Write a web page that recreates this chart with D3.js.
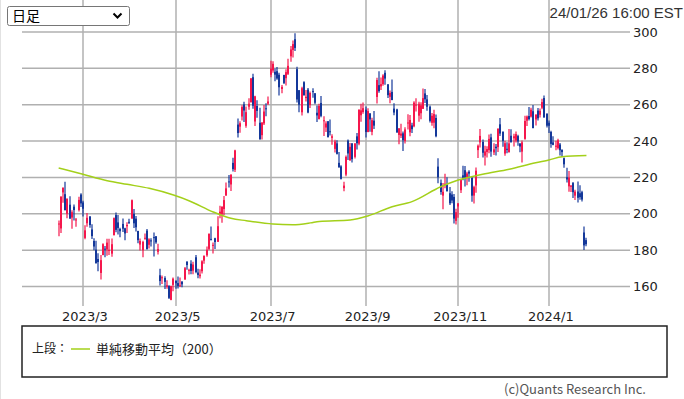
<!DOCTYPE html>
<html>
<head>
<meta charset="utf-8">
<script src="https://cdn.jsdelivr.net/npm/d3@7"></script>
<style>
  body { margin: 0; background: #fff; }
  svg { display: block; }
</style>
</head>
<body>
<svg width="684" height="399"></svg>
<script>
// daily bars, 2023/02/13 - 2024/01/26
var dates = [
  "2023/02/13","2023/02/14","2023/02/15","2023/02/16","2023/02/17","2023/02/21","2023/02/22","2023/02/23","2023/02/24","2023/02/27","2023/02/28",
  "2023/03/01","2023/03/02","2023/03/03","2023/03/06","2023/03/07","2023/03/08","2023/03/09","2023/03/10","2023/03/13","2023/03/14","2023/03/15","2023/03/16","2023/03/17","2023/03/20","2023/03/21","2023/03/22","2023/03/23","2023/03/24","2023/03/27","2023/03/28","2023/03/29","2023/03/30","2023/03/31",
  "2023/04/03","2023/04/04","2023/04/05","2023/04/06","2023/04/10","2023/04/11","2023/04/12","2023/04/13","2023/04/14","2023/04/17","2023/04/18","2023/04/19","2023/04/20","2023/04/21","2023/04/24","2023/04/25","2023/04/26","2023/04/27","2023/04/28",
  "2023/05/01","2023/05/02","2023/05/03","2023/05/04","2023/05/05","2023/05/08","2023/05/09","2023/05/10","2023/05/11","2023/05/12","2023/05/15","2023/05/16","2023/05/17","2023/05/18","2023/05/19","2023/05/22","2023/05/23","2023/05/24","2023/05/25","2023/05/26","2023/05/30","2023/05/31",
  "2023/06/01","2023/06/02","2023/06/05","2023/06/06","2023/06/07","2023/06/08","2023/06/09","2023/06/12","2023/06/13","2023/06/14","2023/06/15","2023/06/16","2023/06/20","2023/06/21","2023/06/22","2023/06/23","2023/06/26","2023/06/27","2023/06/28","2023/06/29","2023/06/30",
  "2023/07/03","2023/07/05","2023/07/06","2023/07/07","2023/07/10","2023/07/11","2023/07/12","2023/07/13","2023/07/14","2023/07/17","2023/07/18","2023/07/19","2023/07/20","2023/07/21","2023/07/24","2023/07/25","2023/07/26","2023/07/27","2023/07/28","2023/07/31",
  "2023/08/01","2023/08/02","2023/08/03","2023/08/04","2023/08/07","2023/08/08","2023/08/09","2023/08/10","2023/08/11","2023/08/14","2023/08/15","2023/08/16","2023/08/17","2023/08/18","2023/08/21","2023/08/22","2023/08/23","2023/08/24","2023/08/25","2023/08/28","2023/08/29","2023/08/30","2023/08/31",
  "2023/09/01","2023/09/05","2023/09/06","2023/09/07","2023/09/08","2023/09/11","2023/09/12","2023/09/13","2023/09/14","2023/09/15","2023/09/18","2023/09/19","2023/09/20","2023/09/21","2023/09/22","2023/09/25","2023/09/26","2023/09/27","2023/09/28","2023/09/29",
  "2023/10/02","2023/10/03","2023/10/04","2023/10/05","2023/10/06","2023/10/09","2023/10/10","2023/10/11","2023/10/12","2023/10/13","2023/10/16","2023/10/17","2023/10/18","2023/10/19","2023/10/20","2023/10/23","2023/10/24","2023/10/25","2023/10/26","2023/10/27","2023/10/30","2023/10/31",
  "2023/11/01","2023/11/02","2023/11/03","2023/11/06","2023/11/07","2023/11/08","2023/11/09","2023/11/10","2023/11/13","2023/11/14","2023/11/15","2023/11/16","2023/11/17","2023/11/20","2023/11/21","2023/11/22","2023/11/24","2023/11/27","2023/11/28","2023/11/29","2023/11/30",
  "2023/12/01","2023/12/04","2023/12/05","2023/12/06","2023/12/07","2023/12/08","2023/12/11","2023/12/12","2023/12/13","2023/12/14","2023/12/15","2023/12/18","2023/12/19","2023/12/20","2023/12/21","2023/12/22","2023/12/26","2023/12/27","2023/12/28","2023/12/29",
  "2024/01/02","2024/01/03","2024/01/04","2024/01/05","2024/01/08","2024/01/09","2024/01/10","2024/01/11","2024/01/12","2024/01/16","2024/01/17","2024/01/18","2024/01/19","2024/01/22","2024/01/23","2024/01/24","2024/01/25","2024/01/26"
];

var open = [
  194.42,191.94,211.76,210.78,199.99,204.99,197.93,203.91,196.33,202.03,210.59,
  206.21,186.74,194.80,198.54,191.38,185.04,180.25,175.13,167.46,177.31,180.80,180.37,180.00,178.08,188.28,199.30,195.26,191.65,194.42,192.00,193.13,195.58,197.53,
  199.91,197.32,190.52,183.08,179.94,186.69,190.74,182.95,185.36,187.15,187.64,179.10,166.17,164.80,164.65,159.82,160.29,152.64,160.90,
  163.17,161.88,160.01,162.71,163.97,173.72,168.95,172.55,168.70,176.07,167.66,165.65,168.41,174.22,177.17,180.70,186.20,182.56,186.54,184.62,200.10,199.78,
  202.59,210.15,217.80,216.14,228.00,224.22,249.07,247.94,253.51,260.17,248.40,258.92,261.50,275.13,250.77,259.29,250.07,243.24,249.70,258.03,260.60,
  276.49,278.82,278.09,278.43,276.47,268.65,276.33,274.59,277.01,286.63,290.15,296.04,279.56,268.00,255.85,272.38,263.66,268.31,259.86,267.48,
  266.26,255.57,252.04,260.97,251.45,247.45,250.87,245.40,241.77,235.70,238.73,228.02,226.06,214.12,221.55,240.25,229.34,238.66,231.31,242.58,238.58,254.20,255.98,
  257.26,245.00,255.14,245.07,251.22,264.27,270.76,270.07,271.32,277.55,271.16,264.35,267.04,257.85,257.40,243.38,242.98,244.26,240.02,250.00,
  244.81,248.61,248.14,260.00,253.98,255.31,257.75,266.20,262.92,258.90,250.05,250.10,252.70,225.95,217.01,210.00,216.50,215.88,211.32,210.60,209.28,196.12,
  204.04,212.97,221.15,223.98,219.98,223.15,219.75,210.03,215.60,235.03,239.29,239.49,232.00,234.04,235.04,242.04,233.75,236.89,236.68,249.21,245.14,
  233.14,235.75,233.87,242.92,241.55,240.27,242.74,238.55,234.19,241.22,251.21,253.78,253.48,256.41,251.90,256.76,254.49,258.35,263.66,255.10,
  250.08,244.98,239.25,236.86,236.14,238.11,235.10,230.57,220.08,215.10,214.86,216.88,209.99,212.26,211.30,211.88,189.70,185.50
];

var high = [
  196.30,209.82,214.66,217.65,208.44,209.71,201.99,205.14,197.67,209.42,211.23,
  207.20,193.75,200.48,198.60,194.20,186.50,185.18,178.29,177.35,183.80,182.34,186.22,186.22,186.44,198.00,200.66,199.31,192.36,197.39,192.35,195.29,197.33,207.79,
  202.69,198.74,190.68,186.39,185.10,189.19,191.58,186.50,186.57,189.69,187.69,183.50,169.70,166.00,165.65,163.47,160.67,160.48,165.00,
  163.28,165.49,165.00,162.95,170.79,173.80,169.82,174.43,173.57,177.38,169.76,169.52,174.50,177.06,181.95,189.32,192.96,184.22,186.78,198.60,204.48,203.95,
  209.80,217.25,221.29,221.91,230.83,235.23,252.42,250.97,259.68,261.57,258.95,263.60,274.75,276.99,265.00,262.45,258.37,250.39,259.88,260.74,264.45,
  284.25,283.85,279.97,280.78,277.52,270.90,276.52,279.45,285.30,292.23,295.26,299.29,280.93,268.00,269.85,272.90,268.04,269.13,267.25,269.08,
  266.47,259.52,260.49,264.77,253.65,250.92,251.10,251.80,243.79,240.66,240.50,233.97,226.74,217.58,232.13,240.82,238.98,238.92,239.00,244.38,257.48,260.51,261.18,
  259.08,258.00,255.39,252.81,256.52,274.85,278.39,274.98,276.71,278.98,271.44,267.85,273.93,260.86,257.79,247.10,249.55,245.33,247.55,254.77,
  254.28,250.02,261.86,263.60,261.65,261.36,268.94,268.60,265.41,259.60,255.40,257.18,254.63,230.61,218.86,216.98,222.05,220.10,214.80,212.41,210.88,202.80,
  205.99,219.20,226.37,226.32,223.12,224.00,220.80,215.38,225.40,238.14,246.70,240.88,237.39,237.10,243.62,244.01,238.75,238.33,247.00,252.75,245.22,
  240.19,239.37,246.66,246.57,244.08,245.27,243.44,238.99,240.30,253.88,254.13,258.74,258.34,259.84,254.80,258.22,257.97,263.34,265.13,255.19,
  251.25,245.68,242.70,240.12,241.25,238.96,235.50,230.93,225.34,223.49,215.67,217.45,213.19,217.80,215.65,212.73,193.00,186.78
];

var low = [
  187.61,189.44,206.11,201.84,197.50,197.22,191.78,196.33,192.80,201.26,203.75,
  198.52,186.01,192.88,192.30,186.10,180.00,172.51,168.44,163.91,177.14,176.03,176.93,177.33,176.35,188.04,189.80,188.65,187.15,189.94,185.43,189.44,194.42,197.20,
  192.20,190.32,183.76,179.74,176.11,185.65,180.31,180.94,182.01,176.55,183.58,177.65,160.56,161.32,158.61,158.75,153.14,152.37,157.32,
  158.83,158.93,159.91,159.65,163.51,169.19,166.56,166.68,166.79,167.23,164.55,164.35,167.19,172.45,176.31,180.11,185.26,178.22,180.58,184.53,197.53,195.12,
  199.37,209.75,214.52,212.53,223.20,223.01,242.02,244.59,251.34,250.50,247.29,257.21,261.07,257.78,248.25,252.80,240.70,240.85,248.89,253.61,259.89,
  275.11,277.60,272.88,273.77,265.10,266.37,271.46,270.60,276.31,283.57,286.01,289.52,261.20,255.80,254.12,265.00,261.75,255.30,258.23,263.78,
  260.25,250.49,252.00,253.11,242.76,245.01,241.90,243.00,238.02,233.75,232.61,225.38,218.83,212.36,220.58,229.55,229.29,228.18,230.35,235.35,237.77,250.59,255.05,
  242.01,244.86,245.06,243.27,246.67,260.61,266.60,268.10,270.42,271.00,263.76,260.87,262.46,254.21,244.48,238.31,241.66,234.58,238.65,246.35,
  242.62,244.45,247.60,256.25,250.65,252.05,257.65,260.90,256.63,250.22,248.48,247.08,242.08,216.78,210.42,202.51,214.11,212.20,204.88,205.77,194.67,194.07,
  197.85,211.45,218.40,215.00,215.72,217.64,206.68,205.69,211.61,230.72,236.45,230.96,226.54,231.02,233.34,231.40,232.33,232.10,234.01,242.76,236.91,
  231.90,233.29,233.70,239.17,236.98,239.27,237.45,233.87,228.20,240.79,248.30,251.36,253.01,247.00,248.55,251.37,252.91,257.52,252.71,247.43,
  244.41,236.32,237.73,234.90,235.30,232.04,231.29,225.37,217.15,212.18,212.01,208.74,207.56,206.27,207.75,206.77,180.06,182.10
];

var close = [
  194.64,209.25,214.24,202.04,208.31,197.37,200.86,202.07,196.88,207.63,205.71,
  202.77,190.90,197.79,193.81,187.71,182.00,172.92,173.44,174.48,183.26,180.45,184.13,180.13,183.25,197.58,191.15,192.22,190.41,191.81,189.19,193.88,195.28,207.46,
  194.77,192.58,185.52,185.06,184.51,186.79,180.54,185.90,185.00,187.04,184.31,180.59,162.99,165.08,162.55,160.67,153.75,160.19,164.31,
  161.83,160.31,160.61,161.20,170.06,171.79,169.15,168.54,172.08,167.98,166.35,166.52,173.86,176.89,180.14,188.87,185.77,182.90,184.47,193.17,201.16,203.93,
  207.52,213.97,217.61,221.31,224.57,234.86,244.40,249.83,258.71,256.79,255.90,260.54,274.45,259.46,264.61,256.60,241.05,250.21,256.24,257.50,261.77,
  279.82,282.48,276.54,274.43,269.61,269.79,271.99,277.90,281.38,290.38,293.34,291.26,262.90,260.02,269.06,265.28,264.35,255.71,266.44,267.43,
  261.07,254.11,259.32,253.86,251.45,249.70,242.19,245.34,242.65,239.76,232.96,225.60,219.22,215.49,231.28,233.19,236.86,230.04,238.59,238.82,257.18,256.90,258.08,
  245.01,256.49,251.92,251.49,248.50,273.58,267.48,271.30,276.04,274.39,265.28,266.50,262.59,255.70,244.88,246.99,244.12,240.50,246.38,250.22,
  251.60,246.53,261.16,260.05,260.53,259.67,263.62,262.99,258.87,251.12,253.92,254.85,242.68,220.11,211.99,212.08,216.52,212.42,205.76,207.30,197.36,200.84,
  205.66,218.51,219.96,219.27,222.18,222.11,209.98,214.65,223.71,237.41,242.84,233.59,234.30,235.60,241.20,234.21,235.45,236.08,246.72,244.14,240.08,
  238.83,235.58,238.72,239.37,242.64,243.84,239.74,237.01,239.29,251.05,253.50,252.08,257.22,247.14,254.50,252.54,256.61,261.44,253.18,248.48,
  248.42,238.45,237.93,237.49,240.45,234.96,233.94,227.22,218.89,219.91,215.55,211.88,212.19,208.80,209.14,207.83,182.63,183.25
];

// 200-day simple moving average (bar index -> value)
var smaIndex = [0, 11, 22, 31, 41, 52, 59, 70, 78, 85, 97, 106, 114, 118, 132, 140, 151, 160, 173, 180, 192, 204, 216, 222, 228, 239];
var smaValue = [225.2, 221.7, 218.2, 216.2, 214.0, 210.3, 207.2, 201.0, 197.5, 196.2, 194.4, 194.0, 195.0, 195.8, 196.6, 198.8, 203.9, 206.7, 214.9, 218.2, 221.7, 224.5, 228.1, 229.6, 231.4, 232.0];

var priceTicks = [160, 180, 200, 220, 240, 260, 280, 300];
var stampText = "24/01/26 16:00 EST";
var periodText = "日足";
var legendLabel = "上段：";
var smaLabel = "単純移動平均（200）";
var creditText = "(c)Quants Research Inc.";

var upColor = "#f5174c",
    downColor = "#14389a",
    smaColor = "#a3d01a",
    gridColor = "#b0b0b0",
    textColor = "#222";

var svg = d3.select("svg"),
    left = 22, right = 622, top = 27, bottom = 306;

svg.append("rect").attr("width", 684).attr("height", 399).attr("fill", "#fff");
svg.append("line")
    .attr("x1", 0.5).attr("x2", 0.5).attr("y1", 0).attr("y2", 399)
    .attr("stroke", "#e2e2e2");

var bars = dates.map(function(d, i) {
    return {date: d, i: i, o: open[i], h: high[i], l: low[i], c: close[i]};
});

var x = d3.scaleLinear().domain([-16.6, 255.1]).range([left, right]);
var y = d3.scaleLinear().domain([160, 300]).range([286.5, 32]);

// month starts for the vertical grid (odd months labelled)
var monthStarts = bars.filter(function(d, i) {
    return i > 0 && d.date.slice(5, 7) != bars[i - 1].date.slice(5, 7) && (+d.date.slice(5, 7)) % 2 == 1;
});

var grid = svg.append("g").attr("class", "grid")
    .attr("stroke", gridColor).attr("stroke-width", 1.5);

grid.selectAll(".hgrid")
    .data(priceTicks)
    .enter().append("line")
    .attr("x1", left).attr("x2", right + 8)
    .attr("y1", function(d) { return y(d); })
    .attr("y2", function(d) { return y(d); });

grid.selectAll(".vgrid")
    .data(monthStarts)
    .enter().append("line")
    .attr("x1", function(d) { return Math.round(x(d.i)); })
    .attr("x2", function(d) { return Math.round(x(d.i)); })
    .attr("y1", top).attr("y2", bottom);

svg.append("rect")
    .attr("x", left).attr("y", top)
    .attr("width", right - left).attr("height", bottom - top)
    .attr("fill", "none").attr("stroke", gridColor).attr("stroke-width", 1.5);

// y labels
svg.append("g")
    .selectAll("text")
    .data(priceTicks)
    .enter().append("text")
    .attr("x", right + 11)
    .attr("y", function(d) { return y(d); })
    .attr("dy", "0.36em")
    .attr("font-family", "'DejaVu Sans', sans-serif")
    .attr("font-size", 13)
    .attr("fill", textColor)
    .text(function(d) { return d; });

// x labels
svg.append("g")
    .selectAll("text")
    .data(monthStarts)
    .enter().append("text")
    .attr("x", function(d) { return x(d.i) + 2; })
    .attr("y", 316)
    .attr("dy", "0.36em")
    .attr("text-anchor", "middle")
    .attr("font-family", "'DejaVu Sans', sans-serif")
    .attr("font-size", 13)
    .attr("fill", textColor)
    .text(function(d) { return d.date.slice(0, 4) + "/" + (+d.date.slice(5, 7)); });

// candles
var candle = svg.append("g").attr("class", "candles")
    .selectAll("g")
    .data(bars)
    .enter().append("g")
    .attr("fill", function(d) { return d.c >= d.o ? upColor : downColor; })
    .attr("stroke", function(d) { return d.c >= d.o ? upColor : downColor; });

candle.append("line")
    .attr("x1", function(d) { return Math.round(x(d.i)); })
    .attr("x2", function(d) { return Math.round(x(d.i)); })
    .attr("y1", function(d) { return y(d.h); })
    .attr("y2", function(d) { return y(d.l); })
    .attr("stroke-width", 1.2);

candle.append("rect")
    .attr("stroke", "none")
    .attr("x", function(d) { return Math.round(x(d.i)) - 1; })
    .attr("width", 2)
    .attr("y", function(d) { return y(Math.max(d.o, d.c)); })
    .attr("height", function(d) { return Math.max(1, Math.abs(y(d.o) - y(d.c))); });

// moving average
var sma = smaIndex.map(function(d, k) { return [d, smaValue[k]]; });
svg.append("path")
    .datum(sma)
    .attr("fill", "none")
    .attr("stroke", smaColor)
    .attr("stroke-width", 1.5)
    .attr("d", d3.line()
        .x(function(d) { return x(d[0]); })
        .y(function(d) { return y(d[1]); })
        .curve(d3.curveMonotoneX));

// period selector
var sel = svg.append("g");
sel.append("rect")
    .attr("x", 7.5).attr("y", 6.5).attr("width", 122).attr("height", 19).attr("rx", 2)
    .attr("fill", "#fff").attr("stroke", "#767676");
sel.append("text")
    .attr("x", 12).attr("y", 16).attr("dy", "0.36em")
    .attr("font-family", "'Noto Sans CJK JP', sans-serif").attr("font-size", 14)
    .attr("fill", "#000").text(periodText);
sel.append("path")
    .attr("d", "M113.5,13.5 L117.5,17.5 L121.5,13.5")
    .attr("fill", "none").attr("stroke", "#000").attr("stroke-width", 2);

svg.append("text")
    .attr("x", 683).attr("y", 13).attr("dy", "0.36em")
    .attr("text-anchor", "end")
    .attr("font-family", "'Liberation Sans', Arial, sans-serif").attr("font-size", 15)
    .attr("fill", "#333").text(stampText);

// legend
var legend = svg.append("g");
legend.append("rect")
    .attr("x", 22).attr("y", 326).attr("width", 645).attr("height", 51)
    .attr("fill", "none").attr("stroke", "#222").attr("stroke-width", 1.5);
legend.append("text")
    .attr("x", 32).attr("y", 349).attr("dy", "0.36em")
    .attr("font-family", "'Noto Sans CJK JP', sans-serif").attr("font-size", 12)
    .attr("fill", textColor).text(legendLabel);
legend.append("line")
    .attr("x1", 71).attr("x2", 90).attr("y1", 349).attr("y2", 349)
    .attr("stroke", smaColor).attr("stroke-width", 1.5);
legend.append("text")
    .attr("x", 96).attr("y", 349).attr("dy", "0.36em")
    .attr("font-family", "'Noto Sans CJK JP', sans-serif").attr("font-size", 13)
    .attr("fill", textColor).text(smaLabel);

svg.append("text")
    .attr("x", 646).attr("y", 389).attr("dy", "0.36em")
    .attr("text-anchor", "end")
    .attr("font-family", "'Noto Sans CJK JP', sans-serif").attr("font-size", 13)
    .attr("fill", "#555").text(creditText);
</script>
</body>
</html>
